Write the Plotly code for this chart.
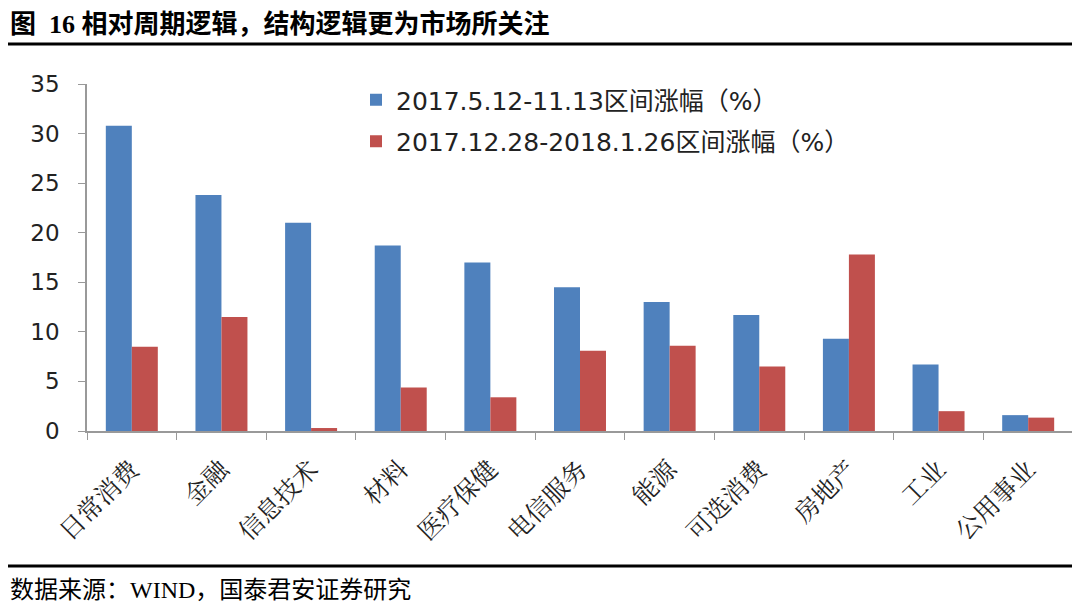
import plotly.graph_objects as go

categories = ["日常消费", "金融", "信息技术", "材料", "医疗保健", "电信服务",
              "能源", "可选消费", "房地产", "工业", "公用事业"]
series1_name = "2017.5.12-11.13区间涨幅（%）"
series1 = [30.8, 23.8, 21.0, 18.7, 17.0, 14.5, 13.0, 11.7, 9.3, 6.7, 1.6]
series2_name = "2017.12.28-2018.1.26区间涨幅（%）"
series2 = [8.5, 11.5, 0.3, 4.4, 3.4, 8.1, 8.6, 6.5, 17.8, 2.0, 1.35]
y_ticks = [0, 5, 10, 15, 20, 25, 30, 35]

title_text = "<b>图  16 相对周期逻辑，结构逻辑更为市场所关注</b>"
source_text = "数据来源：WIND，国泰君安证券研究"

# page body has an 8px margin: figure is sized so that it fits the window
OFF = 8
W, H = 1080 - OFF, 607 - OFF
L, R, T, B = 87 - OFF, 7, 84 - OFF, 176
pw, ph = W - L - R, H - T - B


def px_x(sx):
    """screen x -> paper x"""
    return (sx - OFF - L) / pw


def px_y(sy):
    """screen y -> paper y"""
    return (H - B - (sy - OFF)) / ph


fig = go.Figure()
fig.add_trace(go.Bar(x=categories, y=series1, name=series1_name,
                     marker=dict(color="#4F81BD", line=dict(width=0)),
                     legendgroup="a"))
fig.add_trace(go.Bar(x=categories, y=series2, name=series2_name,
                     marker=dict(color="#C0504D", line=dict(width=0)),
                     legendgroup="b"))

axis_font = "DejaVu Sans, Noto Sans CJK SC, sans-serif"
cjk_font = "Noto Serif CJK SC, Noto Sans CJK SC, serif"
serif_font = "Liberation Serif, Noto Sans CJK SC, serif"

fig.update_layout(
    width=W, height=H,
    margin=dict(l=L, r=R, t=T, b=B),
    paper_bgcolor="white", plot_bgcolor="white",
    barmode="group", bargap=0.42, bargroupgap=0.0,
    showlegend=True,
    legend=dict(x=px_x(356), y=px_y(77), xanchor="left", yanchor="top",
                font=dict(family=axis_font, size=25, color="#222222"),
                bgcolor="rgba(0,0,0,0)", tracegroupgap=6,
                itemwidth=30),
    xaxis=dict(showline=True, linecolor="#999999", linewidth=1.5,
               ticks="outside", tickson="boundaries", ticklen=7,
               tickcolor="#999999", showgrid=False,
               tickangle=-45, ticklabelstandoff=12,
               tickfont=dict(family=cjk_font, size=25, color="#222222")),
    yaxis=dict(range=[0, 35], tickvals=y_ticks, showline=True,
               linecolor="#999999", linewidth=1.5, ticks="outside",
               ticklen=7, tickcolor="#999999", showgrid=False,
               zeroline=False, ticklabelstandoff=14,
               tickfont=dict(family=axis_font, size=23, color="#222222")),
    shapes=[
        dict(type="line", xref="paper", yref="paper",
             x0=px_x(OFF), x1=px_x(1080), y0=px_y(44), y1=px_y(44),
             line=dict(color="black", width=3)),
        dict(type="line", xref="paper", yref="paper",
             x0=px_x(OFF), x1=px_x(1080), y0=px_y(566), y1=px_y(566),
             line=dict(color="black", width=3)),
    ],
    annotations=[
        dict(text=title_text, xref="paper", yref="paper",
             x=px_x(8), y=px_y(25), xanchor="left", yanchor="middle",
             showarrow=False,
             font=dict(family=serif_font, size=26, color="black")),
        dict(text=source_text, xref="paper", yref="paper",
             x=px_x(8), y=px_y(590), xanchor="left", yanchor="middle",
             showarrow=False,
             font=dict(family=serif_font, size=24, color="black")),
    ],
)

fig.write_html("out.html")
